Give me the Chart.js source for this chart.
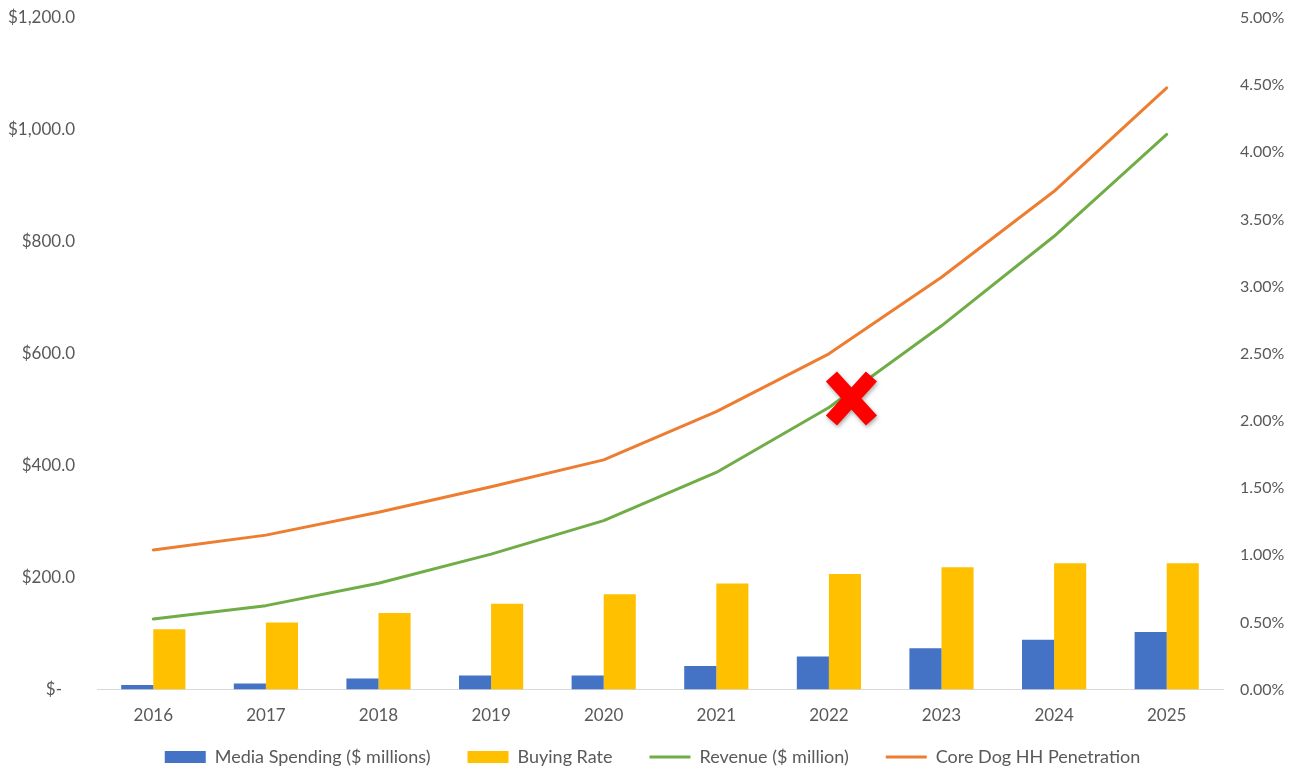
<!DOCTYPE html>
<html>
<head>
<meta charset="utf-8">
<script src="https://cdn.jsdelivr.net/npm/chart.js@4/dist/chart.umd.min.js"></script>
<style>
  html, body { margin: 0; padding: 0; background: #ffffff; }
  #wrap { position: relative; width: 1305px; height: 771px; }
</style>
</head>
<body>
<div id="wrap"><canvas id="c" width="1305" height="771"></canvas></div>
<script>
const years = ['2016', '2017', '2018', '2019', '2020', '2021', '2022', '2023', '2024', '2025'];
const mediaSpending = [8, 11, 20, 25, 25, 42, 59, 74, 89, 103];          // $ millions (left axis)
const buyingRate = [0.45, 0.50, 0.57, 0.64, 0.71, 0.79, 0.86, 0.91, 0.94, 0.94]; // % (right axis)
const revenue = [126, 150, 190, 242, 302, 388, 504, 650, 810, 992];      // $ million (left axis)
const penetration = [1.04, 1.15, 1.32, 1.51, 1.71, 2.07, 2.50, 3.07, 3.71, 4.48]; // % (right axis)
const leftTicks = { min: 0, max: 1200, step: 200 };
const rightTicks = { min: 0, max: 5, step: 0.5 };
// annotation: red cross near 2022 on the revenue line
const crossMark = { xIndex: 6.2, yValue: 520 };

const textColor = '#595959';
const fontFamily = 'Lato, "Open Sans", sans-serif';

const crossPlugin = {
  id: 'crossMark',
  afterDatasetsDraw(chart) {
    const ctx = chart.ctx;
    const x = chart.scales.x.getPixelForValue(crossMark.xIndex);
    const y = chart.scales.yL.getPixelForValue(crossMark.yValue);
    const s = 20;
    ctx.save();
    ctx.shadowColor = 'rgba(0,0,0,0.35)';
    ctx.shadowBlur = 4;
    ctx.shadowOffsetX = 1;
    ctx.shadowOffsetY = 2;
    ctx.strokeStyle = '#FF0000';
    ctx.lineWidth = 15;
    ctx.lineCap = 'butt';
    ctx.beginPath();
    ctx.moveTo(x - s, y - s * 1.1);
    ctx.lineTo(x + s, y + s * 1.1);
    ctx.moveTo(x + s, y - s * 1.1);
    ctx.lineTo(x - s, y + s * 1.1);
    ctx.stroke();
    ctx.restore();
  }
};

// move the legend closer to the axis labels (legend padding also sets horizontal spacing)
const legendShift = {
  id: 'legendShift',
  afterLayout(chart) {
    const lg = chart.legend;
    if (lg) { lg.top -= 31; lg.bottom -= 31; }
  }
};

const hiddenTicks = (len) => ({
  display: true, drawOnChartArea: false, drawTicks: true, tickLength: len,
  color: 'rgba(0,0,0,0)', lineWidth: 0
});

new Chart(document.getElementById('c'), {
  data: {
    labels: years,
    datasets: [
      {
        type: 'bar', label: 'Media Spending ($ millions)', data: mediaSpending,
        backgroundColor: '#4472C4', borderWidth: 0, yAxisID: 'yL', pointStyle: 'rect',
        categoryPercentage: 0.57, barPercentage: 1.0
      },
      {
        type: 'bar', label: 'Buying Rate', data: buyingRate,
        backgroundColor: '#FFC000', borderWidth: 0, yAxisID: 'yR', pointStyle: 'rect',
        categoryPercentage: 0.57, barPercentage: 1.0
      },
      {
        type: 'line', label: 'Revenue ($ million)', data: revenue,
        borderColor: '#70AD47', backgroundColor: '#70AD47', borderWidth: 3,
        pointRadius: 0, pointHoverRadius: 0, pointStyle: 'line', tension: 0, yAxisID: 'yL',
        borderCapStyle: 'round', borderJoinStyle: 'round'
      },
      {
        type: 'line', label: 'Core Dog HH Penetration', data: penetration,
        borderColor: '#ED7D31', backgroundColor: '#ED7D31', borderWidth: 3,
        pointRadius: 0, pointHoverRadius: 0, pointStyle: 'line', tension: 0, yAxisID: 'yR',
        borderCapStyle: 'round', borderJoinStyle: 'round'
      }
    ]
  },
  options: {
    responsive: false,
    animation: false,
    devicePixelRatio: 1,
    layout: { padding: { top: 18, left: 0, right: 0, bottom: -36 } },
    plugins: {
      tooltip: { enabled: false },
      legend: {
        position: 'bottom',
        labels: {
          color: textColor,
          font: { family: fontFamily, size: 18 },
          usePointStyle: true,
          pointStyleWidth: 41,
          boxHeight: 12,
          padding: 37
        }
      }
    },
    scales: {
      x: {
        grid: { display: false, drawTicks: false },
        border: { display: true, color: '#D9D9D9', width: 1 },
        ticks: { color: textColor, font: { family: fontFamily, size: 17 }, padding: 16 }
      },
      yL: {
        position: 'left',
        min: leftTicks.min, max: leftTicks.max,
        grid: hiddenTicks(20),
        border: { display: false },
        ticks: {
          stepSize: leftTicks.step, color: textColor, padding: 2,
          font: { family: fontFamily, size: 17 },
          callback: (v) => v === 0 ? '$-   ' : '$' + v.toLocaleString('en-US', { minimumFractionDigits: 1, maximumFractionDigits: 1 })
        },
        afterFit(scale) { scale.width = 97; }
      },
      yR: {
        position: 'right',
        min: rightTicks.min, max: rightTicks.max,
        grid: hiddenTicks(15),
        border: { display: false },
        ticks: {
          stepSize: rightTicks.step, color: textColor, padding: 2,
          font: { family: fontFamily, size: 16 },
          callback: (v) => v.toFixed(2) + '%'
        },
        afterFit(scale) { scale.width = 82; }
      }
    }
  },
  plugins: [crossPlugin, legendShift]
});
</script>
</body>
</html>
